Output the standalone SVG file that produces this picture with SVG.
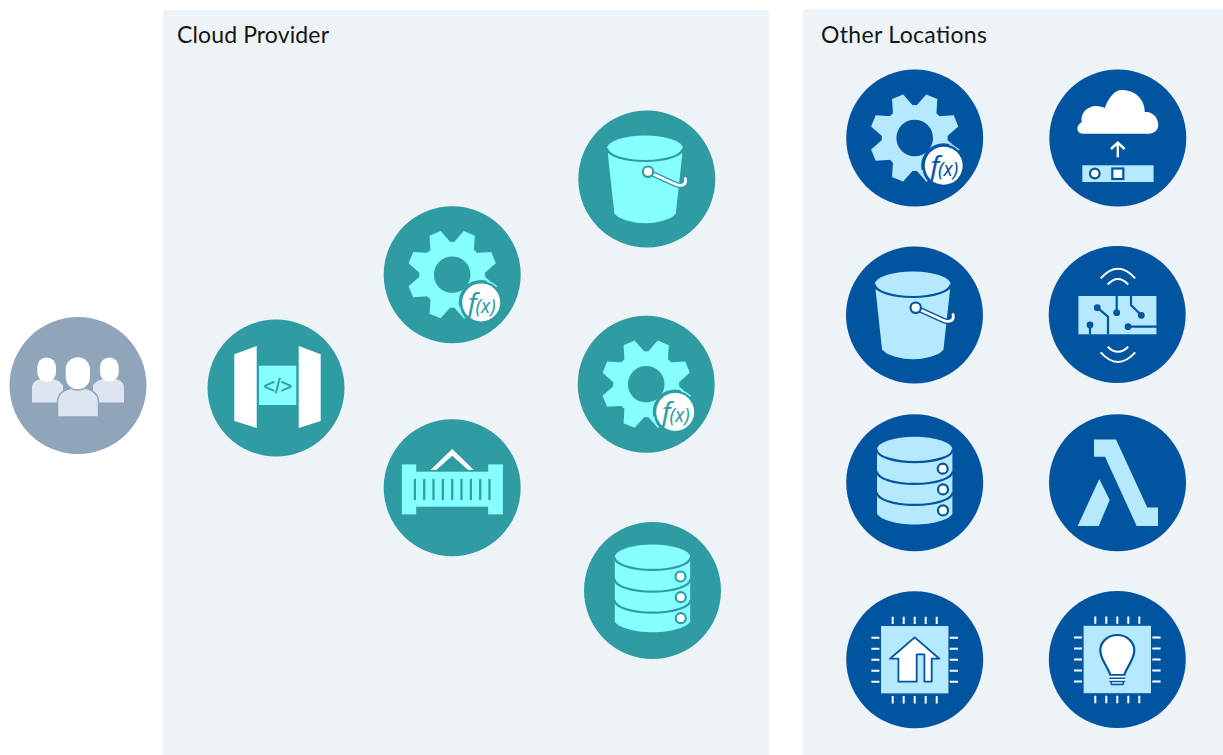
<svg xmlns="http://www.w3.org/2000/svg" width="1223" height="755" viewBox="0 0 1223 755">
<style>
.panel{fill:#eef3f7}
.title{font-family:Lato,"Liberation Sans",sans-serif;font-size:23px;fill:#151515}
.teal{--bg:#2f9ca3;--fg:#86ffff}
.blue{--bg:#0054a0;--fg:#b5e9ff}
.grey{--bg:#90a5b9;--fg:#dde6f0}
.bg{fill:var(--bg)}
.fg{fill:var(--fg)}
.wh{fill:#fff}
.ol{stroke:var(--bg);stroke-width:2.2}
.ln{fill:none;stroke:var(--bg);stroke-width:2.2}
.wl{fill:none;stroke:#fff;stroke-width:2}
.fa{fill:none;stroke:var(--fg);stroke-width:1.2}
.fn{font-family:"Noto Sans",sans-serif;font-style:italic;fill:var(--bg)}
.code{font-family:"Liberation Sans",sans-serif;fill:var(--bg);stroke:var(--bg);stroke-width:.3}
.hb{fill:none;stroke:var(--bg);stroke-width:5.6}
.hw{fill:none;stroke:#fff;stroke-width:2.8;stroke-linecap:round}
</style>
<defs>
<polygon id="tooth" class="fg" points="-11,-30 -6,-44.7 6,-44.7 11,-30"/>
<g id="gear">
<circle class="bg" r="68.5"/>
<circle class="fg" r="33"/>
<use href="#tooth" transform="rotate(22.5)"/><use href="#tooth" transform="rotate(67.5)"/><use href="#tooth" transform="rotate(112.5)"/><use href="#tooth" transform="rotate(157.5)"/><use href="#tooth" transform="rotate(202.5)"/><use href="#tooth" transform="rotate(247.5)"/><use href="#tooth" transform="rotate(292.5)"/><use href="#tooth" transform="rotate(337.5)"/>
<circle class="bg" r="18.3"/>
<circle class="bg" cx="29" cy="27.7" r="22.5"/>
<path class="fa" d="M34.5,6.5 A22,22 0 0 1 44.5,12"/>
<path class="fa" d="M7.5,32 A22,22 0 0 0 13,44"/>
<circle class="wh" cx="29" cy="27.7" r="19"/>
<text class="fn" x="15.5" y="38" font-size="28">f<tspan font-size="19" dx="-1">(x)</tspan></text>
</g>
<g id="bucket">
<circle class="bg" r="68.5"/>
<path class="fg" d="M-39,-25.7 L-32.5,34.3 C-28,41 -12,44.3 -1.8,44.3 C9,44.3 25,41 29,34.3 L35.6,-25.7 Z"/>
<ellipse class="fg" cx="-1.8" cy="-30.7" rx="38" ry="12.7"/>
<path class="ln" d="M-39.8,-30.7 A38,12.7 0 0 0 36.2,-30.7"/>
<path class="hb" d="M1.2,-7.3 L28,5 C35,8 40,6 38.5,-0.5"/>
<path class="hw" d="M1.2,-7.3 L28,5 C35,8 40,6 38.5,-0.5"/>
<circle class="wh ol" cx="1.2" cy="-7.3" r="5.2"/>
</g>
<g id="db">
<circle class="bg" r="68.5"/>
<path class="fg" d="M-37.7,-33.3 V30.7 C-35,37 -18,41.7 0,41.7 C18,41.7 35,37 37.7,30.7 V-33.3 Z"/>
<ellipse class="fg" cy="-33.3" rx="37.7" ry="12.7"/>
<path class="ln" d="M-38,-33.3 A38,12.7 0 0 0 38,-33.3"/>
<path class="ln" d="M-38,-11.5 A38,12.7 0 0 0 38,-11.5"/>
<path class="ln" d="M-38,9.5 A38,12.7 0 0 0 38,9.5"/>
<circle class="wh ol" cx="28" cy="-14" r="5"/>
<circle class="wh ol" cx="28.3" cy="6.7" r="5"/>
<circle class="wh ol" cx="28.3" cy="27.7" r="5"/>
</g>
<g id="pins" class="wl">
<path d="M-22,-43V-35.7M-11,-43V-35.7M0,-43V-35.7M11,-43V-35.7M22,-43V-35.7M-22,36.3V43.7M-11,36.3V43.7M0,36.3V43.7M11,36.3V43.7M22,36.3V43.7M-43.3,-22H-35.3M-43.3,-11H-35.3M-43.3,0H-35.3M-43.3,11H-35.3M-43.3,22H-35.3M35,-22H43.3M35,-11H43.3M35,0H43.3M35,11H43.3M35,22H43.3"/>
</g>
</defs>

<rect class="panel" x="163" y="10" width="606" height="760" rx="3"/>
<rect class="panel" x="803" y="9" width="430" height="760" rx="3"/>
<text class="title" x="177" y="43" textLength="152">Cloud Provider</text>
<text class="title" x="821" y="43" textLength="166">Other Locations</text>

<g id="users" class="grey" transform="translate(78,385.5)">
<circle class="bg" r="68.5"/>
<path class="fg" d="M-46,17 V2 C-46,-4 -40,-7 -31,-7 C-22,-7 -18,-4 -15,0 V17 Z"/>
<path class="fg" d="M46,17 V2 C46,-4 40,-7 31,-7 C22,-7 18,-4 15,0 V17 Z"/>
<rect class="wh" x="-40.7" y="-28" width="18.7" height="24.2" rx="9.3"/>
<rect class="wh" x="22" y="-28" width="18.7" height="24.2" rx="9.3"/>
<path class="fg" d="M-20.5,31.5 V16 C-20.5,7 -11,2 0,2 C11,2 20.5,7 20.5,16 V31.5 Z" stroke="var(--bg)" stroke-width="1.5"/>
<rect class="wh" x="-13" y="-29" width="25.7" height="33.5" rx="12.8" stroke="var(--bg)" stroke-width="1.5"/>
</g>

<g id="gateway" class="teal" transform="translate(276,388)">
<circle class="bg" r="68.5"/>
<polygon class="wh" points="-41.7,-33.7 -19.3,-42 -19.3,40 -41.7,33"/>
<polygon class="wh" points="22.7,-42 44.7,-33.7 44.7,33 22.7,40"/>
<rect class="fg" x="-17" y="-22.3" width="37.3" height="39.3"/>
<text class="code" x="1.8" y="4.8" font-size="20" text-anchor="middle">&lt;/&gt;</text>
</g>

<g id="function-cloud-a" class="teal" transform="translate(452.2,274.7)"><use href="#gear"/></g>

<g id="container" class="teal" transform="translate(452.2,487.7)">
<circle class="bg" r="68.5"/>
<rect class="fg" x="-50.3" y="-23.3" width="14.3" height="50"/>
<rect class="fg" x="36" y="-23.3" width="14.7" height="50"/>
<rect class="fg" x="-37" y="-16" width="74" height="35"/>
<path class="ln" d="M-37.3,-8.7V12.3M-28,-8.7V12.3M-18.7,-8.7V12.3M-9.3,-8.7V12.3M0,-8.7V12.3M9.3,-8.7V12.3M18.7,-8.7V12.3M28,-8.7V12.3M37.3,-8.7V12.3"/>
<polygon class="wh" points="-21.7,-17.7 0,-38.7 21.7,-17.7 16,-17.7 0,-32 -16,-17.7"/>
</g>

<g id="bucket-cloud" class="teal" transform="translate(646.8,179)"><use href="#bucket"/></g>
<g id="function-cloud-b" class="teal" transform="translate(646.2,384.2)"><use href="#gear"/></g>
<g id="database-cloud" class="teal" transform="translate(652.5,590.5)"><use href="#db"/></g>

<g id="function-other" class="blue" transform="translate(914.7,138)"><use href="#gear"/></g>

<g id="cloud-upload" class="blue" transform="translate(1117.8,138)">
<circle class="bg" r="68.5"/>
<path class="wh" d="M-35,-4.3 C-41,-4.3 -43,-12 -36,-16 C-38,-24 -31,-32 -22,-32 C-18,-32 -15,-31 -13,-30 C-9,-41 -3,-48 4,-48 C18,-48 27,-38 27,-26 C35,-27 40.5,-20 40.5,-13 C40.5,-8 36,-4.3 31,-4.3 Z"/>
<path class="wl" d="M0,19.3V5M-6.8,11L0,4.7L6.8,11" style="stroke-width:2.4"/>
<rect class="fg" x="-35.5" y="27.3" width="71.3" height="16.7"/>
<circle class="wh ol" cx="-23" cy="35.5" r="4.8"/>
<rect class="wh ol" x="-5.5" y="30.5" width="11" height="10.5"/>
</g>

<g id="bucket-other" class="blue" transform="translate(914.5,315)"><use href="#bucket"/></g>

<g id="iot" class="blue" transform="translate(1117.2,314.5)">
<circle class="bg" r="68.5"/>
<rect class="fg" x="-38.8" y="-18.5" width="78" height="38.3"/>
<path class="ln" d="M-19.9,-6.8L-9.2,2.2V19.8M-27.2,10.5V19.8M-0.5,-18.5V-1.8M13.8,-18.5V-9.5L24.1,0.8M10.8,12.2H39.8"/>
<circle class="bg" cx="-19.9" cy="-6.8" r="3.4"/><circle class="bg" cx="-27.2" cy="10.5" r="3.4"/><circle class="bg" cx="-0.5" cy="-1.8" r="3.4"/><circle class="bg" cx="24.1" cy="0.8" r="3.4"/><circle class="bg" cx="10.8" cy="12.2" r="3.4"/>
<path class="wl" d="M-16.5,-36.2Q0.8,-55.5 18,-36.2M-9.5,-30Q0.8,-41 11,-30M-9.5,32.2Q0.8,42.5 11,32.2M-16.5,37.8Q0.8,57 18,37.8"/>
</g>

<g id="database-other" class="blue" transform="translate(914.7,482.7)"><use href="#db"/></g>

<g id="lambda" class="blue" transform="translate(1117.5,482.7)">
<circle class="bg" r="68.5"/>
<polygon class="fg" points="-23.5,-43.3 -1.5,-43.3 29.8,24.7 40.5,24.7 40.5,43.3 19.2,43.3 -12.5,-26 -23.5,-26"/>
<polygon class="fg" points="-18.2,-3.7 -7.8,17.3 -18.8,43.3 -39.8,43.3"/>
</g>

<g id="chip-home" class="blue" transform="translate(914.7,659.7)">
<circle class="bg" r="68.5"/>
<rect class="fg" x="-33.7" y="-33.7" width="67.4" height="67.4"/>
<use href="#pins"/>
<polygon class="wh ol" style="stroke-width:1.8" stroke-linejoin="round" points="0,-22.3 24.7,-1 17,-1 17,22 9.7,22 9.7,-5.3 2,-5.3 2,22 -16.3,22 -16.3,-1 -24.7,-1"/>
</g>

<g id="chip-bulb" class="blue" transform="translate(1117.3,659.5)">
<circle class="bg" r="68.5"/>
<rect class="fg" x="-33.7" y="-33.7" width="67.4" height="67.4"/>
<use href="#pins"/>
<path class="wh ol" d="M-7,15.5 C-9,8 -17,0 -17,-9 C-17,-18 -9,-24.5 0,-24.5 C9,-24.5 17,-18 17,-9 C17,0 9,8 7,15.5 Z"/>
<rect class="wh" x="-8" y="15.5" width="16" height="8"/>
<path class="ln" style="stroke-width:1.6" d="M-8,15.5H8M-8,18.7H8M-8,22H8M-6,25H6M-6,22V25M6,22V25"/>
</g>
</svg>
